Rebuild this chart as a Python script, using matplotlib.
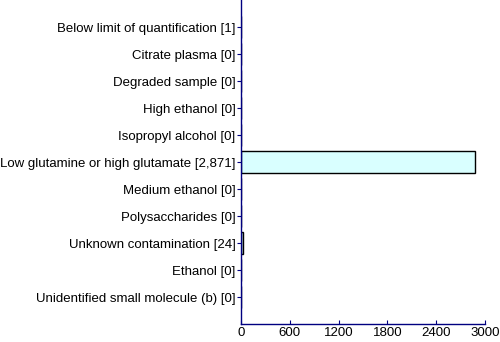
import matplotlib
matplotlib.use("Agg")
import matplotlib.pyplot as plt

categories = [
    "Below limit of quantification",
    "Citrate plasma",
    "Degraded sample",
    "High ethanol",
    "Isopropyl alcohol",
    "Low glutamine or high glutamate",
    "Medium ethanol",
    "Polysaccharides",
    "Unknown contamination",
    "Ethanol",
    "Unidentified small molecule (b)",
]
counts = [1, 0, 0, 0, 0, 2871, 0, 0, 24, 0, 0]
x_ticks = [0, 600, 1200, 1800, 2400, 3000]

plt.rcParams["font.family"] = ["Liberation Sans", "DejaVu Sans"]
plt.rcParams["font.size"] = 9.5

navy = "#000080"
fig = plt.figure(figsize=(5, 3.42), dpi=100)
ax = fig.add_axes([0.482, 0.0526, 0.488, 0.9474])

pos = list(range(len(categories)))
ax.barh(pos, counts, height=0.85, color="#d9ffff", edgecolor="black", linewidth=1)

labels = [f"{c} [{n:,}]" for c, n in zip(categories, counts)]
ax.set_yticks(pos)
ax.set_yticklabels(labels)
ax.set_ylim(len(categories), -1)

ax.set_xlim(0, 3000)
ax.set_xticks(x_ticks)

for side in ("top", "right"):
    ax.spines[side].set_visible(False)
for side in ("left", "bottom"):
    ax.spines[side].set_color(navy)
    ax.spines[side].set_linewidth(1)

ax.tick_params(axis="y", length=3, color=navy, pad=1)
ax.tick_params(axis="x", direction="in", length=3, color=navy, pad=2)

fig.savefig("out.png", dpi=100)
